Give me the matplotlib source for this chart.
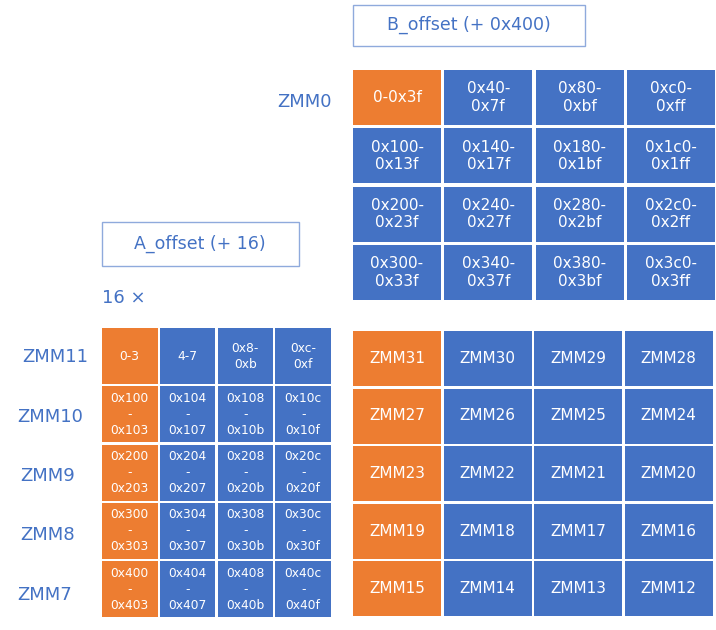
import matplotlib.pyplot as plt
from matplotlib.patches import Rectangle

ORANGE = '#ED7D31'
BLUE = '#4472C4'

# B_offset table (big grid, top)
b_rows = ['ZMM0', '', '', '']
b_cells = [
    ['0-0x3f', '0x40-\n0x7f', '0x80-\n0xbf', '0xc0-\n0xff'],
    ['0x100-\n0x13f', '0x140-\n0x17f', '0x180-\n0x1bf', '0x1c0-\n0x1ff'],
    ['0x200-\n0x23f', '0x240-\n0x27f', '0x280-\n0x2bf', '0x2c0-\n0x2ff'],
    ['0x300-\n0x33f', '0x340-\n0x37f', '0x380-\n0x3bf', '0x3c0-\n0x3ff'],
]
# accumulator registers (big grid, bottom)
acc_cells = [
    ['ZMM31', 'ZMM30', 'ZMM29', 'ZMM28'],
    ['ZMM27', 'ZMM26', 'ZMM25', 'ZMM24'],
    ['ZMM23', 'ZMM22', 'ZMM21', 'ZMM20'],
    ['ZMM19', 'ZMM18', 'ZMM17', 'ZMM16'],
    ['ZMM15', 'ZMM14', 'ZMM13', 'ZMM12'],
]
# A_offset table (small grid)
a_rows = ['ZMM11', 'ZMM10', 'ZMM9', 'ZMM8', 'ZMM7']
a_cells = [
    ['0-3', '4-7', '0x8-\n0xb', '0xc-\n0xf'],
    ['0x100\n-\n0x103', '0x104\n-\n0x107', '0x108\n-\n0x10b', '0x10c\n-\n0x10f'],
    ['0x200\n-\n0x203', '0x204\n-\n0x207', '0x208\n-\n0x20b', '0x20c\n-\n0x20f'],
    ['0x300\n-\n0x303', '0x304\n-\n0x307', '0x308\n-\n0x30b', '0x30c\n-\n0x30f'],
    ['0x400\n-\n0x403', '0x404\n-\n0x407', '0x408\n-\n0x40b', '0x40c\n-\n0x40f'],
]

fig = plt.figure(figsize=(7.16, 6.3), dpi=100)
ax = fig.add_axes([0, 0, 1, 1])
ax.set_xlim(0, 716)
ax.set_ylim(630, 0)
ax.axis('off')


def draw_grid(cells, x0, y0, w, h, gap, fs, ls=1.2, first_only=False):
    for r, row in enumerate(cells):
        for c, txt in enumerate(row):
            x = x0 + c * (w + gap)
            y = y0 + r * (h + gap)
            orange = (c == 0 and r == 0) if first_only else c == 0
            col = ORANGE if orange else BLUE
            ax.add_patch(Rectangle((x, y), w, h, facecolor=col, edgecolor='none'))
            ax.text(x + w / 2, y + h / 2, txt, ha='center', va='center',
                    color='white', fontsize=fs, linespacing=ls)


draw_grid(b_cells, 353, 70, 88, 55, 3.3, 11, first_only=True)
draw_grid(acc_cells, 353, 331, 88, 55, 2.5, 11)
draw_grid(a_cells, 102, 328, 55.5, 56, 2.3, 8.8, ls=1.3)

# row labels
ax.text(305, 102, b_rows[0], ha='center', va='center', color=BLUE, fontsize=13)
a_label_x = [55, 50, 48, 48, 45]
for i, lab in enumerate(a_rows):
    ax.text(a_label_x[i], 357 + i * 59.5, lab, ha='center', va='center',
            color=BLUE, fontsize=13)

# offset boxes
ax.add_patch(Rectangle((353, 5), 232, 41, facecolor='white', edgecolor='#8FAADC', lw=1))
ax.text(469, 25, 'B_offset (+ 0x400)', ha='center', va='center', color=BLUE, fontsize=12.5)
ax.add_patch(Rectangle((102, 222), 197, 44, facecolor='white', edgecolor='#8FAADC', lw=1))
ax.text(200, 244, 'A_offset (+ 16)', ha='center', va='center', color=BLUE, fontsize=12.5)
ax.text(102, 298, '16 ×', ha='left', va='center', color=BLUE, fontsize=13)

fig.savefig('out.png', dpi=100)
